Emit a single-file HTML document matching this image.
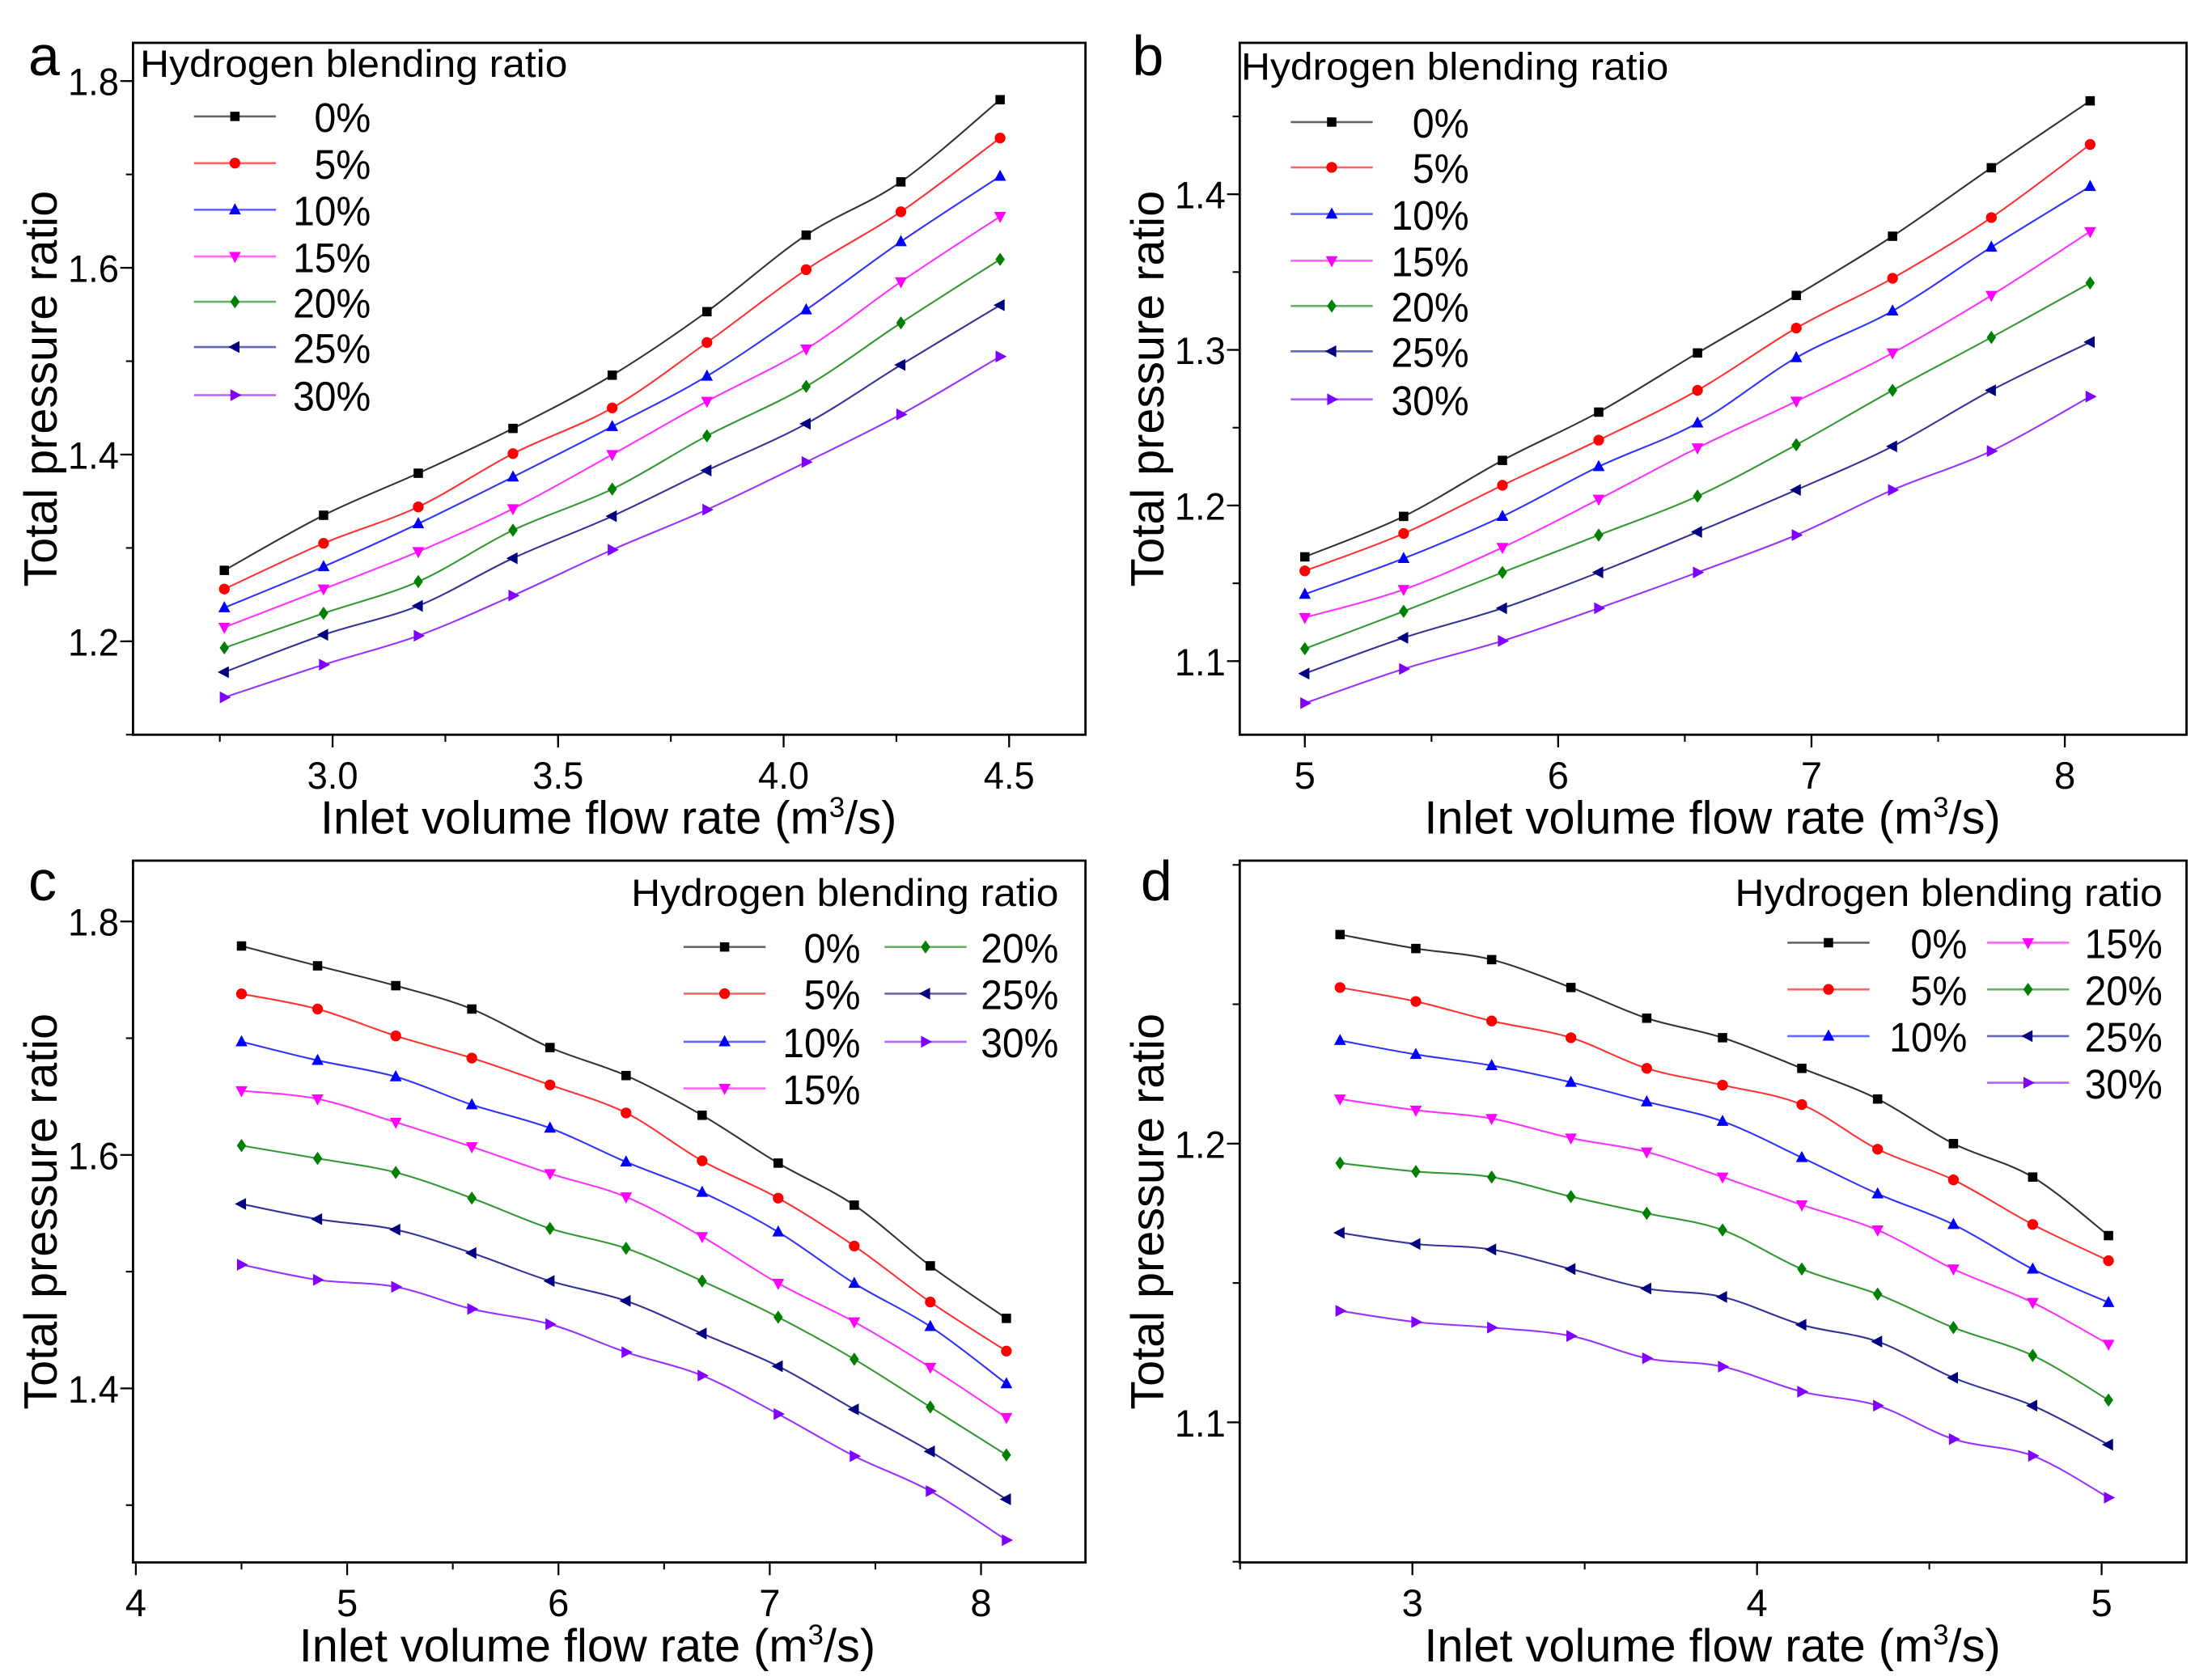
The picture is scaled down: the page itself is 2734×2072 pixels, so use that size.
<!DOCTYPE html>
<html><head><meta charset="utf-8"><style>
html,body{margin:0;padding:0;background:#fff;}
svg{display:block;}
text{font-family:"Liberation Sans Narrow","Liberation Sans",sans-serif;fill:#000;}
</style></head><body>
<svg id="fig" width="2734" height="2072" viewBox="0 0 1563 1184" xmlns="http://www.w3.org/2000/svg"></svg>
<script>
const seriesLabels = ["0%","5%","10%","15%","20%","25%","30%"];
const colors = ["#000000","#ff0000","#0000ff","#ff00ff","#008000","#000080","#8000ff"];
const markers = ["square","circle","up","down","diamond","left","right"];

const xA = [2.76,2.98,3.19,3.40,3.62,3.83,4.05,4.26,4.48];
const yA0 = [1.276,1.335,1.38,1.428,1.485,1.553,1.635,1.692,1.78];
const yA1 = [1.256,1.305,1.344,1.401,1.45,1.52,1.598,1.66,1.739];
const yA2 = [1.236,1.28,1.326,1.376,1.43,1.484,1.555,1.628,1.698];
const yA3 = [1.215,1.256,1.296,1.342,1.40,1.457,1.513,1.585,1.655];
const yA4 = [1.193,1.23,1.264,1.319,1.363,1.42,1.473,1.541,1.609];
const yA5 = [1.167,1.207,1.238,1.289,1.334,1.383,1.433,1.496,1.56];
const yA6 = [1.14,1.175,1.206,1.249,1.298,1.341,1.392,1.443,1.505];

const xB = [5.0,5.39,5.78,6.16,6.55,6.94,7.32,7.71,8.1];
const yB0 = [1.167,1.193,1.229,1.26,1.298,1.335,1.373,1.417,1.46];
const yB1 = [1.158,1.182,1.213,1.242,1.274,1.314,1.346,1.385,1.432];
const yB2 = [1.143,1.166,1.193,1.225,1.253,1.295,1.325,1.366,1.405];
const yB3 = [1.128,1.146,1.173,1.204,1.237,1.267,1.298,1.335,1.376];
const yB4 = [1.108,1.132,1.157,1.181,1.206,1.239,1.274,1.308,1.343];
const yB5 = [1.092,1.115,1.134,1.157,1.183,1.21,1.238,1.274,1.305];
const yB6 = [1.073,1.095,1.113,1.134,1.157,1.181,1.21,1.235,1.27];

const xC = [4.5,4.86,5.23,5.59,5.96,6.32,6.68,7.04,7.4,7.76,8.12];
const yC0 = [1.779,1.762,1.745,1.725,1.692,1.668,1.634,1.593,1.557,1.505,1.46];
const yC1 = [1.738,1.725,1.702,1.683,1.66,1.636,1.595,1.563,1.522,1.474,1.432];
const yC2 = [1.697,1.681,1.667,1.643,1.623,1.594,1.568,1.534,1.49,1.453,1.404];
const yC3 = [1.655,1.648,1.628,1.607,1.584,1.564,1.53,1.49,1.457,1.418,1.375];
const yC4 = [1.608,1.597,1.585,1.563,1.537,1.52,1.492,1.461,1.425,1.384,1.343];
const yC5 = [1.558,1.545,1.536,1.516,1.492,1.475,1.447,1.419,1.382,1.346,1.305];
const yC6 = [1.506,1.493,1.487,1.468,1.455,1.431,1.411,1.378,1.342,1.312,1.27];

const xD = [2.79,3.01,3.23,3.46,3.68,3.9,4.13,4.35,4.57,4.8,5.02];
const yD0 = [1.275,1.27,1.266,1.256,1.245,1.238,1.227,1.216,1.2,1.188,1.167];
const yD1 = [1.256,1.251,1.244,1.238,1.227,1.221,1.214,1.198,1.187,1.171,1.158];
const yD2 = [1.237,1.232,1.228,1.222,1.215,1.208,1.195,1.182,1.171,1.155,1.143];
const yD3 = [1.216,1.212,1.209,1.202,1.197,1.188,1.178,1.169,1.155,1.143,1.128];
const yD4 = [1.193,1.19,1.188,1.181,1.175,1.169,1.155,1.146,1.134,1.124,1.108];
const yD5 = [1.168,1.164,1.162,1.155,1.148,1.145,1.135,1.129,1.116,1.106,1.092];
const yD6 = [1.14,1.136,1.134,1.131,1.123,1.12,1.111,1.106,1.094,1.088,1.073];

const xTicksA = ["3.0","3.5","4.0","4.5"], yTicksA = ["1.2","1.4","1.6","1.8"];
const xTicksB = ["5","6","7","8"], yTicksB = ["1.1","1.2","1.3","1.4"];
const xTicksC = ["4","5","6","7","8"], yTicksC = ["1.4","1.6","1.8"];
const xTicksD = ["3","4","5"], yTicksD = ["1.1","1.2"];

const NS="http://www.w3.org/2000/svg";
const svg=document.getElementById('fig');
function mk(tag,attrs,parent){const e=document.createElementNS(NS,tag);for(const k in attrs)e.setAttribute(k,attrs[k]);(parent||svg).appendChild(e);return e;}
function txt(s,attrs,parent){const t=mk('text',attrs,parent);t.textContent=s;return t;}

function marker(g,type,cx,cy,c){
  const s=4.2;let e;
  if(type==='square')e=mk('rect',{x:cx-3.3,y:cy-3.3,width:6.6,height:6.6,fill:c},g);
  else if(type==='circle')e=mk('circle',{cx:cx,cy:cy,r:3.8,fill:c},g);
  else{let p;
    if(type==='up')p=[[cx,cy-s-0.5],[cx-s,cy+s-1],[cx+s,cy+s-1]];
    else if(type==='down')p=[[cx,cy+s+0.5],[cx-s,cy-s+1],[cx+s,cy-s+1]];
    else if(type==='diamond')p=[[cx,cy-s-0.5],[cx+3.3,cy],[cx,cy+s+0.5],[cx-3.3,cy]];
    else if(type==='left')p=[[cx-s-0.5,cy],[cx+s-1,cy-s],[cx+s-1,cy+s]];
    else p=[[cx+s+0.5,cy],[cx-s+1,cy-s],[cx-s+1,cy+s]];
    e=mk('polygon',{points:p.map(q=>q.join(',')).join(' '),fill:c},g);}
  
  
}
function smooth(pts){
  let d='M'+pts[0][0]+','+pts[0][1];
  for(let i=0;i<pts.length-1;i++){
    const p0=pts[Math.max(0,i-1)],p1=pts[i],p2=pts[i+1],p3=pts[Math.min(pts.length-1,i+2)];
    const c1=[p1[0]+(p2[0]-p0[0])/6,p1[1]+(p2[1]-p0[1])/6];
    const c2=[p2[0]-(p3[0]-p1[0])/6,p2[1]-(p3[1]-p1[1])/6];
    d+=' C'+c1.join(',')+' '+c2.join(',')+' '+p2.join(',');
  }
  return d;
}

function panel(cfg){
  const g=mk('g',{});
  
  
  const X=v=>cfg.px0+(v-cfg.xv0)*cfg.pxu, Y=v=>cfg.py0-(v-cfg.yv0)*cfg.pyu;
  const frame=mk('rect',{x:cfg.L,y:cfg.T,width:cfg.R-cfg.L,height:cfg.B-cfg.T,fill:'none',stroke:'#000','stroke-width':1.6},g);
  
  
  const xa=mk('g',{},g);
  
  
  for(let v=cfg.xMinorStart;v<=cfg.xMax+1e-9;v+=cfg.xMinor){
    const x=X(v);if(x<cfg.L-0.5||x>cfg.R+0.5)continue;
    mk('line',{x1:x,x2:x,y1:cfg.B,y2:cfg.B+5,stroke:'#000','stroke-width':1.2},xa);
  }
  cfg.xTicks.forEach(s=>{const x=X(parseFloat(s));
    mk('line',{x1:x,x2:x,y1:cfg.B,y2:cfg.B+9,stroke:'#000','stroke-width':1.3},xa);
    const t=txt(s,{x:x,y:cfg.B+38,'font-size':27,'text-anchor':'middle',textLength:s.length>1?36:15,lengthAdjust:'spacingAndGlyphs'},xa);
    
    
  });
  const ya=mk('g',{},g);
  
  
  for(let v=cfg.yMinorStart;v<=cfg.yMax+1e-9;v+=cfg.yMinor){
    const y=Y(v);if(y<cfg.T-0.5||y>cfg.B+0.5)continue;
    mk('line',{x1:cfg.L-5,x2:cfg.L,y1:y,y2:y,stroke:'#000','stroke-width':1.2},ya);
  }
  cfg.yTicks.forEach(s=>{const y=Y(parseFloat(s));
    mk('line',{x1:cfg.L-9,x2:cfg.L,y1:y,y2:y,stroke:'#000','stroke-width':1.3},ya);
    const t=txt(s,{x:cfg.L-10,y:y+10,'font-size':27,'text-anchor':'end',textLength:36,lengthAdjust:'spacingAndGlyphs'},ya);
    
    
  });
  const xt=txt('',{x:cfg.xtX,y:cfg.B+70,'font-size':33,'text-anchor':'middle'},g);
  xt.innerHTML='Inlet volume flow rate (m<tspan dy="-12" font-size="20">3</tspan><tspan dy="12">/s)</tspan>';
  
  
  const cy=(cfg.T+cfg.B)/2;
  const yt=txt('Total pressure ratio',{x:0,y:0,'font-size':33,'text-anchor':'middle',textLength:280,lengthAdjust:'spacingAndGlyphs',transform:`translate(${cfg.L-54},${cy}) rotate(-90)`},g);
  
  
  const lt=txt(cfg.letter,{x:cfg.lx,y:cfg.ly,'font-size':40},g);
  
  
  cfg.ys.forEach((ys,i)=>{
    const sg=mk('g',{},g);
    
    
    const pts=cfg.xs.map((xv,j)=>[X(xv),Y(ys[j])]);
    mk('path',{d:smooth(pts),fill:'none',stroke:colors[i],'stroke-width':1.2,'stroke-opacity':0.8},sg);
    pts.forEach(p=>marker(sg,markers[i],p[0],p[1],colors[i]));
  });
  const lg=mk('g',{},g);
  
  
  const tt=txt('Hydrogen blending ratio',{x:cfg.legTitle[0],y:cfg.legTitle[1],'font-size':27,'text-anchor':cfg.legTitle[2],textLength:302,lengthAdjust:'spacingAndGlyphs'},lg);
  
  
  cfg.leg.forEach((e,i)=>{
    const eg=mk('g',{},lg);
    
    
    mk('line',{x1:e[0],x2:e[0]+58,y1:e[1],y2:e[1],stroke:colors[i],'stroke-width':1.5,'stroke-opacity':0.6},eg);
    marker(eg,markers[i],e[0]+29,e[1],colors[i]);
    txt(seriesLabels[i],{x:e[2],y:e[1]+11,'font-size':29,'text-anchor':'end',textLength:seriesLabels[i].length>2?55:40,lengthAdjust:'spacingAndGlyphs'},eg);
  });
}

function col(x,lx,ys){return ys.map(y=>[x,y,lx]);}
panel({letter:'a',L:94,R:767,T:30,B:519,px0:235,xv0:3.0,pxu:318.7,py0:453,yv0:1.2,pyu:660,
  xMinorStart:2.75,xMinor:0.25,xMax:4.8,yMinorStart:1.1,yMinor:0.1,yMax:1.85,
  xTicks:xTicksA,yTicks:yTicksA,xs:xA,ys:[yA0,yA1,yA2,yA3,yA4,yA5,yA6],
  xtX:430,lx:20,ly:53,legTitle:[99,54,'start'],
  leg:col(137,262,[82,115,148,181,213,245,279])});
panel({letter:'b',L:876,R:1545,T:30,B:519,px0:922,xv0:5,pxu:179,py0:467,yv0:1.1,pyu:1100,
  xMinorStart:4.5,xMinor:0.5,xMax:8.8,yMinorStart:1.05,yMinor:0.05,yMax:1.5,
  xTicks:xTicksB,yTicks:yTicksB,xs:xB,ys:[yB0,yB1,yB2,yB3,yB4,yB5,yB6],
  xtX:1210,lx:800,ly:53,legTitle:[877,56,'start'],
  leg:col(912,1038,[86,118,151,184,216,248,282])});
panel({letter:'c',L:94,R:767,T:608,B:1104,px0:96,xv0:4,pxu:149.3,py0:981,yv0:1.4,pyu:825,
  xMinorStart:4.5,xMinor:1,xMax:8.6,yMinorStart:1.3,yMinor:0.2,yMax:1.9,
  xTicks:xTicksC,yTicks:yTicksC,xs:xC,ys:[yC0,yC1,yC2,yC3,yC4,yC5,yC6],
  xtX:415,lx:20,ly:636,legTitle:[748,640,'end'],
  leg:col(483,608,[669,702,736,769]).concat(col(625,748,[669,702,736]))});
panel({letter:'d',L:876,R:1545,T:608,B:1104,px0:998,xv0:3,pxu:243.5,py0:1005,yv0:1.1,pyu:1970,
  xMinorStart:2.5,xMinor:0.5,xMax:5.3,yMinorStart:1.05,yMinor:0.05,yMax:1.3,
  xTicks:xTicksD,yTicks:yTicksD,xs:xD,ys:[yD0,yD1,yD2,yD3,yD4,yD5,yD6],
  xtX:1210,lx:806,ly:636,legTitle:[1528,640,'end'],
  leg:col(1263,1390,[666,699,732]).concat(col(1404,1528,[666,699,732,765]))});
</script>
</body></html>
